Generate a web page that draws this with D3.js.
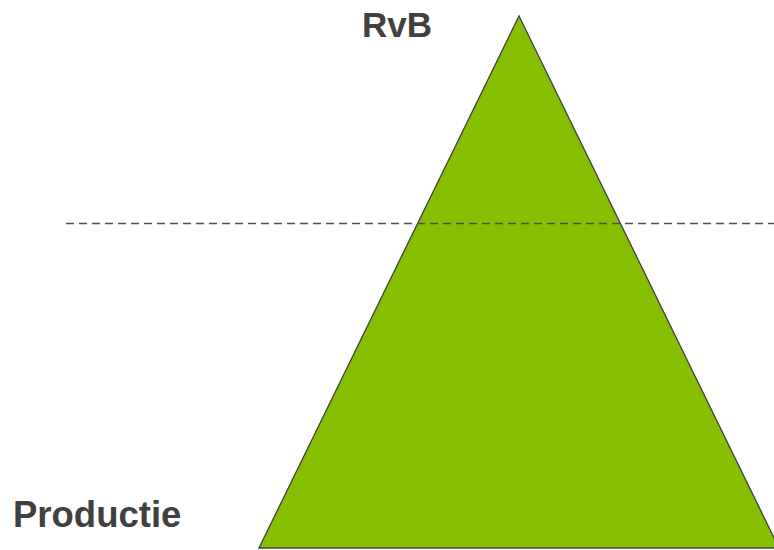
<!DOCTYPE html>
<meta charset="utf-8">
<style>
body { margin: 0; background: #fff; }
text { font-family: "Liberation Sans", Arial, sans-serif; font-weight: bold; fill: #404040; }
</style>
<body>
<script src="https://cdn.jsdelivr.net/npm/d3@7"></script>
<script>
// levels of the pyramid (0 = base, 1 = top)
var levelNames = ["Productie", "RvB"];
var levelPos = [0, 1];
var dividers = [0.61];
// pyramid outline: [level, relative half width]
var outline = [[0, -1], [1, 0], [0, 1]];

var width = 774,
    height = 550;

var svg = d3.select("body").append("svg")
    .attr("width", width)
    .attr("height", height);

var y = d3.scaleLinear().domain([0, 1]).range([548, 16]);
var x = d3.scaleLinear().domain([-1, 1]).range([259, 779]);

var line = d3.line()
    .x(function(d) { return x(d[1]); })
    .y(function(d) { return y(d[0]); });

svg.append("path")
    .datum(outline)
    .attr("d", line(outline) + "Z")
    .attr("fill", "#86bf00")
    .attr("stroke", "#404040")
    .attr("stroke-width", 1.3)
    .attr("stroke-linejoin", "miter");

svg.selectAll(".divider")
    .data(dividers)
  .enter().append("line")
    .attr("class", "divider")
    .attr("x1", 66)
    .attr("x2", width)
    .attr("y1", function(d) { return Math.round(y(d)) + 0.5; })
    .attr("y2", function(d) { return Math.round(y(d)) + 0.5; })
    .attr("stroke", "#505050")
    .attr("stroke-width", 1.6)
    .attr("stroke-dasharray", "8,5");

var labelX = [13, 362];
var labelY = [527, 37];
var labelSize = [36.5, 35];
svg.selectAll(".lbl")
    .data(levelNames)
  .enter().append("text")
    .attr("class", "lbl")
    .attr("x", function(d, i) { return labelX[i]; })
    .attr("y", function(d, i) { return labelY[i]; })
    .style("font-size", function(d, i) { return labelSize[i] + "px"; })
    .text(function(d) { return d; });
</script>
</body>
